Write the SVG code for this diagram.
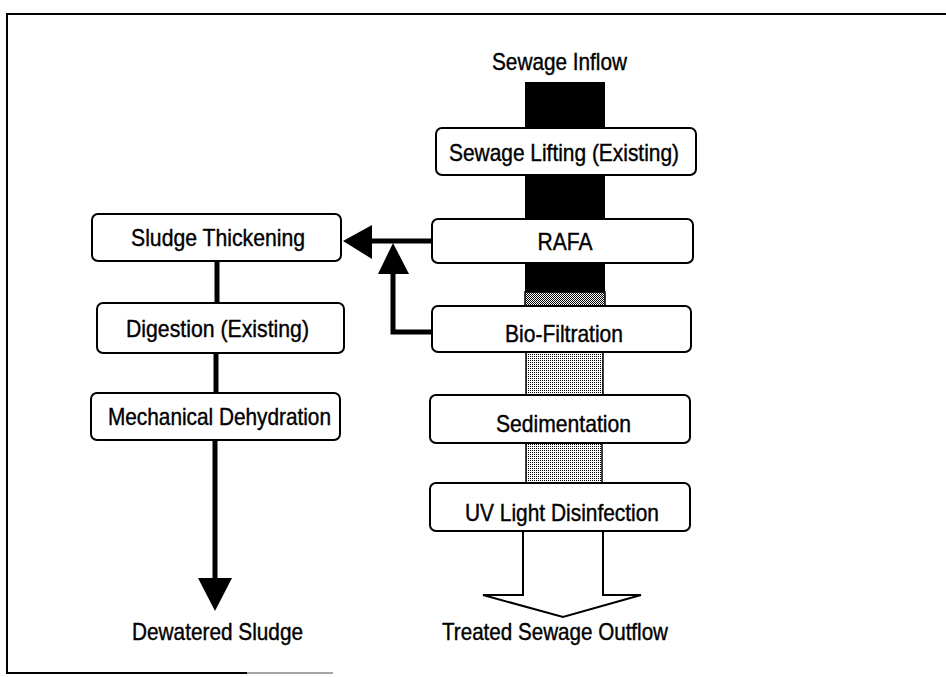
<svg xmlns="http://www.w3.org/2000/svg" width="946" height="677" viewBox="0 0 946 677">
<defs>
<pattern id="dots" width="2" height="2" patternUnits="userSpaceOnUse">
<rect width="2" height="2" fill="#ffffff"/>
<rect width="1" height="1" fill="#000000"/>
</pattern>
<pattern id="dots2" width="2" height="2" patternUnits="userSpaceOnUse">
<rect width="2" height="2" fill="#ffffff"/>
<rect width="1" height="1" fill="#000000"/>
<rect x="1" y="1" width="1" height="1" fill="#000000"/>
</pattern>
<style>
.box{fill:#ffffff;stroke:#000000;stroke-width:2}
.t{font-family:"Liberation Sans",Arial,sans-serif;font-size:24px;fill:#000000;stroke:#000000;stroke-width:0.4;text-anchor:middle}
.ln{stroke:#000000;stroke-width:5;fill:none}
.bar{fill:#000000}
.gbar{fill:url(#dots);stroke:#000000;stroke-width:1.5}
</style>
</defs>
<rect width="946" height="677" fill="#ffffff"/>
<!-- frame -->
<path d="M946,14 H7 V673 H247" fill="none" stroke="#000000" stroke-width="2"/>
<path d="M247,673 H333" fill="none" stroke="#888888" stroke-width="1.5"/>

<!-- flow bars -->
<g id="bars">
<rect class="bar" x="525" y="82" width="80" height="47"/>
<rect class="bar" x="525" y="174" width="80" height="46"/>
<rect class="bar" x="525" y="262" width="80" height="31"/>
<rect x="525" y="292" width="80" height="15" fill="url(#dots2)" stroke="#000000" stroke-width="1.5"/>
<rect class="gbar" x="526" y="351" width="77" height="45"/>
<rect class="gbar" x="526" y="442" width="76" height="42"/>
</g>

<g id="connectors">
<line class="ln" x1="432" y1="241" x2="368" y2="241"/>
<polygon points="343,241 372,225 372,259" fill="#000000"/>
<path class="ln" d="M432,332 H393 V270"/>
<polygon points="393,243 378,274 409,274" fill="#000000"/>
<line class="ln" x1="217" y1="261" x2="217" y2="303"/>
<line class="ln" x1="216" y1="353" x2="216" y2="393"/>
<line class="ln" x1="215" y1="440" x2="215" y2="580"/>
<polygon points="198,578 232,578 215,611" fill="#000000"/>
<path d="M523,531 V595 H483 L563,617 L641,595 H603 V531" fill="#ffffff" stroke="#000000" stroke-width="2" stroke-linejoin="miter"/>
</g>

<g id="inflow"><text class="t" x="559.5" y="70" textLength="135" lengthAdjust="spacingAndGlyphs">Sewage Inflow</text></g>

<g id="lifting">
<rect class="box" x="436" y="128" width="260" height="47" rx="6"/>
<text class="t" x="564" y="161" textLength="230" lengthAdjust="spacingAndGlyphs">Sewage Lifting (Existing)</text>
</g>
<g id="rafa">
<rect class="box" x="432" y="219" width="261" height="44" rx="6"/>
<text class="t" x="565" y="250" textLength="55" lengthAdjust="spacingAndGlyphs">RAFA</text>
</g>
<g id="biofiltration">
<rect class="box" x="432" y="306" width="259" height="46" rx="6"/>
<text class="t" x="564" y="342" textLength="118" lengthAdjust="spacingAndGlyphs">Bio-Filtration</text>
</g>
<g id="sedimentation">
<rect class="box" x="430" y="395" width="260" height="48" rx="6"/>
<text class="t" x="563.5" y="432" textLength="135" lengthAdjust="spacingAndGlyphs">Sedimentation</text>
</g>
<g id="uv">
<rect class="box" x="430" y="483" width="260" height="48" rx="6"/>
<text class="t" x="562" y="521" textLength="194" lengthAdjust="spacingAndGlyphs">UV Light Disinfection</text>
</g>
<g id="outflow"><text class="t" x="555" y="640" textLength="226" lengthAdjust="spacingAndGlyphs">Treated Sewage Outflow</text></g>

<g id="thickening">
<rect class="box" x="92" y="214" width="249" height="47" rx="6"/>
<text class="t" x="218" y="246" textLength="174" lengthAdjust="spacingAndGlyphs">Sludge Thickening</text>
</g>
<g id="digestion">
<rect class="box" x="97" y="303" width="247" height="50" rx="6"/>
<text class="t" x="217.5" y="337" textLength="183" lengthAdjust="spacingAndGlyphs">Digestion (Existing)</text>
</g>
<g id="dehydration">
<rect class="box" x="91" y="393" width="249" height="47" rx="6"/>
<text class="t" x="219.5" y="425" textLength="223" lengthAdjust="spacingAndGlyphs">Mechanical Dehydration</text>
</g>
<g id="dewatered"><text class="t" x="217.5" y="640" textLength="171" lengthAdjust="spacingAndGlyphs">Dewatered Sludge</text></g>
</svg>
